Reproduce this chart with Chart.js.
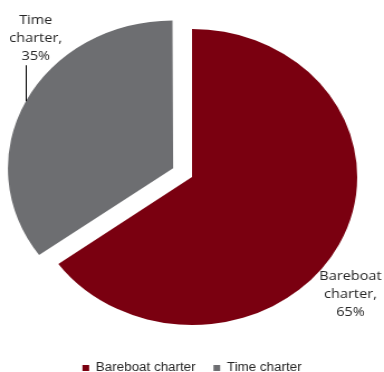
<!DOCTYPE html>
<html lang="en">
<head>
<meta charset="UTF-8">
<title>Charter split</title>
<script src="https://cdn.jsdelivr.net/npm/chart.js"></script>
<style>
  html, body { margin: 0; padding: 0; background: #fff; overflow: hidden; }
</style>
</head>
<body>
<!-- the source picture is wider than tall, so the canvas gets stretched the same way -->
<canvas id="pie" width="344" height="372" style="display:block; width:384px; height:372px;"></canvas>
<script>
    const categories = ['Bareboat charter', 'Time charter'];
    const shares = [65, 35];

    const colours = ['#7a0010', '#6d6e71'];
    // chart.js moves an arc by offset/4, so 76 -> about 19px
    const explode = [0, 76];

    // label spot for each slice: angle (deg from 12 o'clock) and distance in radii
    const labelSpots = [
        { angle: 129.5, dist: 1.243, leader: false },
        { angle: 316.6, dist: 1.21, leader: true }
    ];

    // chart.js also grows an exploded arc a little (offset/4 * (1 - sin(circ))),
    // shrink it back so both slices keep the same radius
    const sameRadius = {
        id: 'sameRadius',
        afterUpdate(chart) {
            chart.getDatasetMeta(0).data.forEach(arc => {
                const off = (arc.options.offset || 0) / 4;
                const fix = 1 - Math.sin(Math.min(Math.PI, arc.circumference || 0));
                arc.outerRadius -= off * fix;
            });
        }
    };

    const sliceLabels = {
        id: 'sliceLabels',
        afterDatasetsDraw(chart) {
            const ctx = chart.ctx;
            const meta = chart.getDatasetMeta(0);
            const r = meta.controller.outerRadius;
            ctx.save();
            ctx.font = '13px "Open Sans"';
            ctx.fillStyle = '#262626';
            ctx.strokeStyle = '#000';
            ctx.lineWidth = 1;
            ctx.textAlign = 'center';
            ctx.textBaseline = 'middle';
            meta.data.forEach((arc, i) => {
                const mid = (arc.startAngle + arc.endAngle) / 2;
                const off = (arc.options.offset || 0) / 4;
                const cx = arc.x + Math.cos(mid) * off;
                const cy = arc.y + Math.sin(mid) * off;
                const spot = labelSpots[i];
                const a = (spot.angle - 90) * Math.PI / 180;
                const lx = cx + Math.cos(a) * r * spot.dist;
                const ly = cy + Math.sin(a) * r * spot.dist;
                const words = categories[i].split(' ');
                const lines = [words[0], words[1] + ',', shares[i] + '%'];
                lines.forEach((t, k) => ctx.fillText(t, lx, ly + (k - 1) * 18));
                if (spot.leader) {
                    // leader line drops straight down onto the middle of the slice edge
                    const px = Math.round(cx + Math.cos(mid) * r) + 0.5;
                    const py = cy + Math.sin(mid) * r;
                    ctx.beginPath();
                    ctx.moveTo(px, ly + 27);
                    ctx.lineTo(px, py);
                    ctx.stroke();
                }
            });
            ctx.restore();
        }
    };

    const ctx = document.getElementById('pie').getContext('2d');
    const pieChart = new Chart(ctx, {
        type: 'pie',
        data: {
            labels: categories,
            datasets: [{
                data: shares,
                backgroundColor: colours,
                borderWidth: 0,
                offset: explode,
                hoverOffset: 0
            }]
        },
        options: {
            responsive: false,
            animation: false,
            radius: 148,
            layout: { padding: { top: 8, bottom: -12, left: 0, right: 0 } },
            plugins: {
                tooltip: { enabled: false },
                legend: {
                    position: 'bottom',
                    labels: {
                        boxWidth: 6,
                        boxHeight: 6,
                        padding: 16,
                        color: '#262626',
                        font: { family: '"Liberation Sans", Arial, sans-serif', size: 12 }
                    }
                }
            }
        },
        plugins: [sameRadius, sliceLabels]
    });
</script>
</body>
</html>
